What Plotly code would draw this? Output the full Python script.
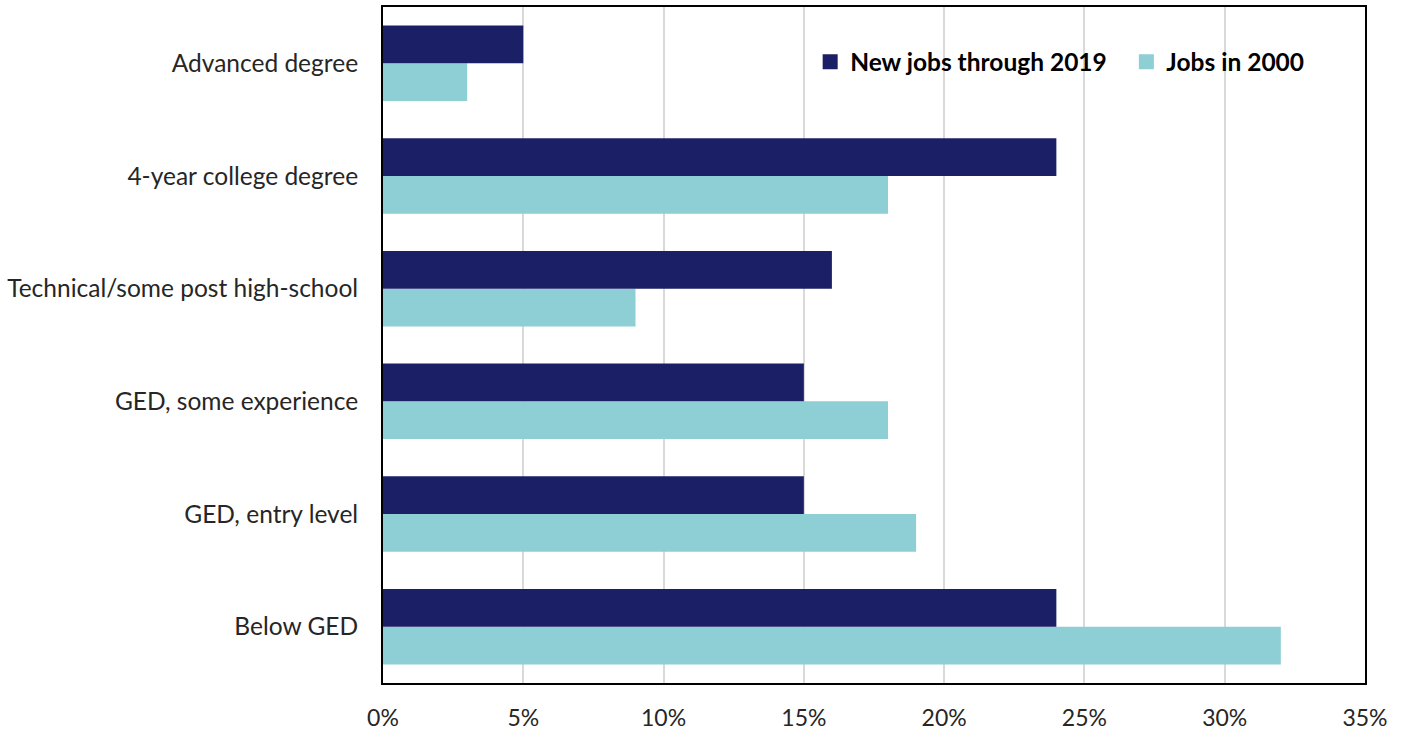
import plotly.graph_objects as go

categories = ["Below GED", "GED, entry level", "GED, some experience",
              "Technical/some post high-school", "4-year college degree", "Advanced degree"]
new_jobs = [24, 15, 15, 16, 24, 5]
jobs_2000 = [32, 19, 18, 9, 18, 3]
tick_vals = [0, 5, 10, 15, 20, 25, 30, 35]
tick_text = ["0%", "5%", "10%", "15%", "20%", "25%", "30%", "35%"]

DARK = "#1B2066"
LIGHT = "#8ECED5"
FONT = "Lato, Open Sans, sans-serif"

fig = go.Figure()
fig.add_trace(go.Bar(y=categories, x=jobs_2000, orientation="h", name="Jobs in 2000",
                     marker=dict(color=LIGHT, line=dict(width=0)), showlegend=False))
fig.add_trace(go.Bar(y=categories, x=new_jobs, orientation="h", name="New jobs through 2019",
                     marker=dict(color=DARK, line=dict(width=0)), showlegend=False))
# legend entries with larger square swatches
fig.add_trace(go.Scatter(x=[None], y=[None], mode="markers", name="New jobs through 2019",
                         marker=dict(symbol="square", size=15, color=DARK), legend="legend"))
fig.add_trace(go.Scatter(x=[None], y=[None], mode="markers", name="Jobs in 2000",
                         marker=dict(symbol="square", size=15, color=LIGHT), legend="legend2"))

leg_common = dict(orientation="h", yanchor="middle", xanchor="left", y=0.919,
                  font=dict(family=FONT, size=24.5, color="black", weight="bold"),
                  bgcolor="rgba(0,0,0,0)", itemsizing="trace")

fig.update_layout(
    width=1406, height=730,
    margin=dict(l=383, r=41, t=7, b=47),
    paper_bgcolor="white", plot_bgcolor="white",
    barmode="group", bargap=0.33, bargroupgap=0,
    font=dict(family=FONT, size=23, color="#262626"),
    legend=dict(x=0.435, **leg_common),
    legend2=dict(x=0.757, **leg_common),
    xaxis=dict(range=[0, 35], tickvals=tick_vals, ticktext=tick_text,
               showgrid=True, gridcolor="#D9D9D9", gridwidth=1.5,
               showline=True, linecolor="black", linewidth=2, mirror=True,
               ticks="", ticklabelstandoff=13, zeroline=False, automargin=False,
               tickfont=dict(family=FONT, size=23, color="#262626")),
    yaxis=dict(showline=True, linecolor="black", linewidth=2, mirror=True,
               ticks="", ticklabelstandoff=18, showgrid=False, automargin=False,
               tickfont=dict(family=FONT, size=24.5, color="#262626")),
)

fig.write_html("out.html")
